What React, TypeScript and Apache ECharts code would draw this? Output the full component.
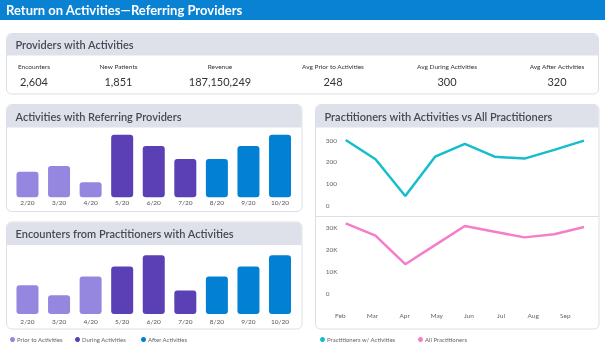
import React, { useEffect, useRef } from "react";
import * as echarts from "echarts";

const barCategories = ["2/20", "3/20", "4/20", "5/20", "6/20", "7/20", "8/20", "9/20", "10/20"];
const barPhase = ["Prior to Activities", "Prior to Activities", "Prior to Activities", "During Activities", "During Activities", "During Activities", "After Activities", "After Activities", "After Activities"];
const phaseNames = ["Prior to Activities", "During Activities", "After Activities"];
const activitiesValues = [41, 50, 24, 100, 82, 61, 61, 82, 100];
const encountersValues = [49, 32, 64, 81, 100, 40, 64, 81, 100];

const months = ["Feb", "Mar", "Apr", "May", "Jun", "Jul", "Aug", "Sep", "Oct"];
const monthTickLabels = ["Feb", "Mar", "Apr", "May", "Jun", "Jul", "Aug", "Sep"];
const practWithActivities = [300, 212, 44, 224, 282, 224, 215, 255, 297];
const allPractitioners = [32000, 26400, 13400, 22100, 30800, 28200, 25600, 27000, 30300];

const statLabels = ["Encounters", "New Patients", "Revenue", "Avg Prior to Activities", "Avg During Activities", "Avg After Activities"];
const statValues = ["2,604", "1,851", "187,150,249", "248", "300", "320"];

const phaseColors = ["#9586df", "#5a3fb5", "#0281d4"];
const FONT = "Lato, 'Noto Sans', sans-serif";

export default function App() {
  const ref = useRef<HTMLDivElement>(null);
  useEffect(() => {
    if (!ref.current) return;
    const chart = echarts.init(ref.current, null, { renderer: "svg" });

    const panel = (x: number, y: number, w: number, h: number, headH: number, title: string) => [
      { type: "rect", z: 0, shape: { x, y, width: w, height: h, r: 5 }, style: { fill: "#fff", stroke: "#dcdfe7", lineWidth: 1 } },
      { type: "rect", z: 0, shape: { x: x + 0.5, y: y + 0.5, width: w - 1, height: headH, r: [5, 5, 0, 0] }, style: { fill: "#dfe1ea" } },
      { type: "text", z: 1, x: x + 9, y: y + headH / 2 + 0.5, style: { text: title, fill: "#474853", font: `600 11px ${FONT}`, textVerticalAlign: "middle" } },
    ];

    const statX = [34, 118.5, 220, 333, 447, 557];
    const stats: any[] = [];
    statLabels.forEach((l, i) => {
      stats.push({ type: "text", z: 1, x: statX[i], y: 66, style: { text: l, fill: "#333", font: `6.5px ${FONT}`, textAlign: "center", textVerticalAlign: "middle" } });
      stats.push({ type: "text", z: 1, x: statX[i], y: 81.5, style: { text: statValues[i], fill: "#333", font: `11px ${FONT}`, textAlign: "center", textVerticalAlign: "middle" } });
    });

    const barSeries = (values: number[], idx: number) =>
      phaseNames.map((p, k) => ({
        type: "bar",
        name: p,
        xAxisIndex: idx,
        yAxisIndex: idx,
        barWidth: 22,
        barGap: "-100%",
        itemStyle: { color: phaseColors[k], borderRadius: 3 },
        data: values.map((v, i) => (barPhase[i] === p ? v : "-")),
      }));

    const catAxis = (gridIndex: number, margin: number) => ({
      type: "category",
      gridIndex,
      data: barCategories,
      axisLine: { show: false },
      axisTick: { show: false },
      axisLabel: { color: "#555", fontSize: 6.5, fontFamily: FONT, margin, interval: 0 },
    });

    const legendItem = (name: string, left: number) => ({
      show: true,
      left,
      top: 336.5,
      padding: 0,
      icon: "circle",
      itemWidth: 5,
      itemHeight: 5,
      data: [name],
      textStyle: { color: "#666", fontSize: 6, fontFamily: FONT, padding: [0, 0, 0, -3] },
    });

    chart.setOption({
      animation: false,
      textStyle: { fontFamily: FONT },
      graphic: [
        { type: "rect", z: 0, shape: { x: 0, y: 0, width: 605, height: 20 }, style: { fill: "#0a82d4" } },
        { type: "text", z: 1, x: 6, y: 9.5, style: { text: "Return on Activities\u2014Referring Providers", fill: "#fff", font: `bold 13px ${FONT}`, textVerticalAlign: "middle" } },
        ...panel(6.5, 33.5, 592, 60.5, 21.5, "Providers with Activities"),
        ...stats,
        ...panel(6.5, 104.5, 295.5, 107, 22.5, "Activities with Referring Providers"),
        ...panel(6.5, 222, 295.5, 107, 22.5, "Encounters from Practitioners with Activities"),
        ...panel(315.5, 104.5, 283.5, 224.5, 22.5, "Practitioners with Activities vs All Practitioners"),
        { type: "line", z: 1, shape: { x1: 316, y1: 216.5, x2: 598.5, y2: 216.5 }, style: { stroke: "#dcdfe7", lineWidth: 1 } },
      ],
      legend: [
        legendItem("Prior to Activities", 10),
        legendItem("During Activities", 75),
        legendItem("After Activities", 141),
        legendItem("Practitioners w/ Activities", 320),
        legendItem("All Practitioners", 418),
      ],
      grid: [
        { left: 11.7, width: 284.1, top: 134.7, height: 62.6 },
        { left: 11.7, width: 284.1, top: 255.3, height: 58.7 },
        { left: 345.7, width: 238.3, top: 140, height: 65.7 },
        { left: 345.7, width: 238.3, top: 221.1, height: 72.6 },
        { left: 340.3, width: 225, top: 305, height: 5 },
      ],
      xAxis: [
        catAxis(0, 1.5),
        catAxis(1, 3.5),
        { type: "category", gridIndex: 2, data: months, boundaryGap: false, show: false },
        { type: "category", gridIndex: 3, data: months, boundaryGap: false, show: false },
        {
          type: "category",
          gridIndex: 4,
          data: monthTickLabels,
          boundaryGap: false,
          axisLine: { show: false },
          axisTick: { show: false },
          axisLabel: { color: "#666", fontSize: 6.5, fontFamily: FONT, margin: 2, interval: 0 },
        },
      ],
      yAxis: [
        { type: "value", gridIndex: 0, min: 0, max: 100, show: false },
        { type: "value", gridIndex: 1, min: 0, max: 100, show: false },
        {
          type: "value",
          gridIndex: 2,
          min: 0,
          max: 300,
          interval: 100,
          axisLine: { show: false },
          axisTick: { show: false },
          splitLine: { show: false },
          axisLabel: { color: "#666", fontSize: 6.5, fontFamily: FONT, align: "left", margin: 20 },
        },
        {
          type: "value",
          gridIndex: 3,
          min: 0,
          max: 33000,
          interval: 10000,
          axisLine: { show: false },
          axisTick: { show: false },
          splitLine: { show: false },
          axisLabel: {
            color: "#666",
            fontSize: 6.5,
            fontFamily: FONT,
            align: "left",
            margin: 20,
            showMaxLabel: false,
            formatter: (v: number) => (v === 0 ? "0" : v / 1000 + "K"),
          },
        },
        { type: "value", gridIndex: 4, show: false },
      ],
      series: [
        ...barSeries(activitiesValues, 0),
        ...barSeries(encountersValues, 1),
        {
          type: "line",
          name: "Practitioners w/ Activities",
          xAxisIndex: 2,
          yAxisIndex: 2,
          data: practWithActivities,
          symbol: "none",
          color: "#16bdcc",
          lineStyle: { width: 2.5, color: "#16bdcc" },
        },
        {
          type: "line",
          name: "All Practitioners",
          xAxisIndex: 3,
          yAxisIndex: 3,
          data: allPractitioners,
          symbol: "none",
          color: "#f47ec9",
          lineStyle: { width: 2.5, color: "#f47ec9" },
        },
      ],
    });
    return () => chart.dispose();
  }, []);
  return <div ref={ref} style={{ position: "fixed", left: 0, top: 0, width: 605, height: 348 }} />;
}
